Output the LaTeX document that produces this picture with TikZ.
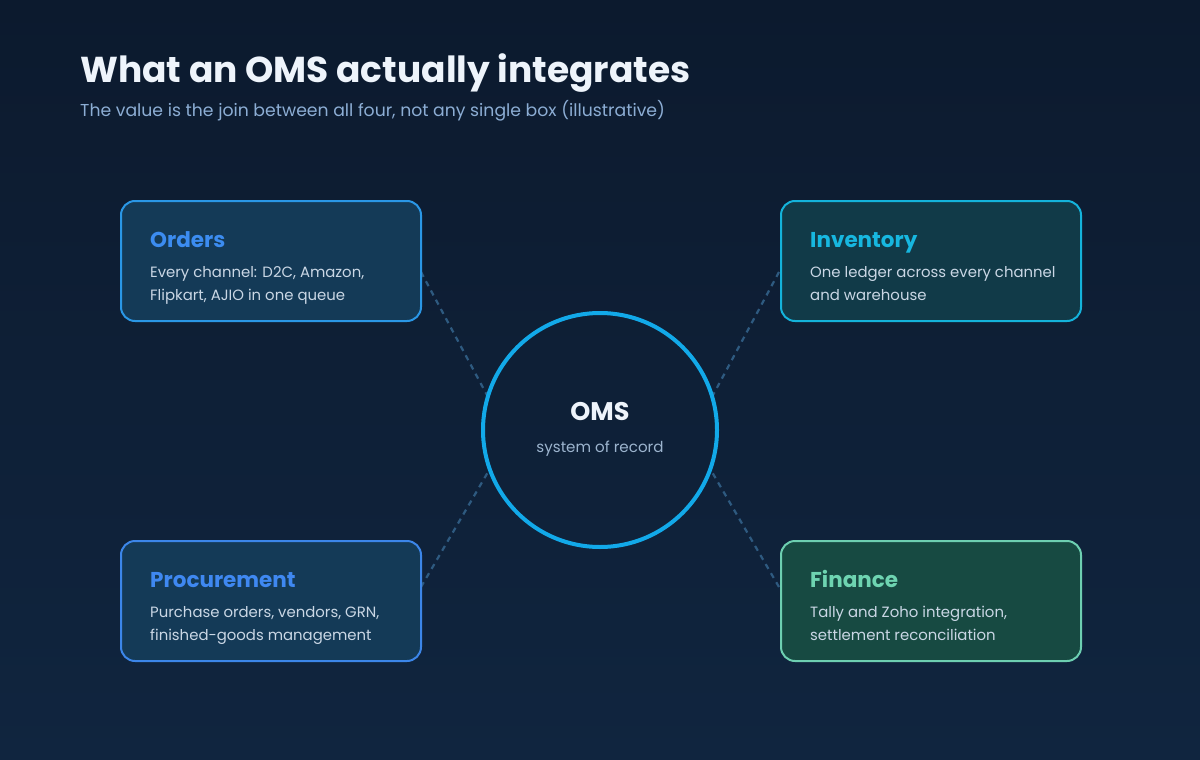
\documentclass[tikz,border=0pt]{standalone}
\usepackage{fontspec}
\setmainfont{Poppins}
\usetikzlibrary{calc}

\definecolor{bgtop}{HTML}{0C1A2E}
\definecolor{bgbot}{HTML}{10253F}
\definecolor{titlecol}{HTML}{EEF4FB}
\definecolor{subcol}{HTML}{8CADD4}
\definecolor{bodycol}{HTML}{CAD7E5}
\definecolor{dashcol}{HTML}{2E5A80}
\definecolor{hubcol}{HTML}{12A9E9}
\definecolor{hubsub}{HTML}{9CB4CE}
% card palettes
\definecolor{ordfill}{HTML}{143A57}
\definecolor{ordline}{HTML}{2A97E6}
\definecolor{ordhead}{HTML}{3C8CF0}
\definecolor{invfill}{HTML}{113A48}
\definecolor{invline}{HTML}{14B3DB}
\definecolor{invhead}{HTML}{17B7E0}
\definecolor{profill}{HTML}{143A57}
\definecolor{proline}{HTML}{3C86E9}
\definecolor{prohead}{HTML}{3F88F1}
\definecolor{finfill}{HTML}{174A42}
\definecolor{finline}{HTML}{6DCFB1}
\definecolor{finhead}{HTML}{6ED4B1}

\tikzset{
  card/.style={rounded corners=14pt, line width=2pt, minimum width=300pt,
    minimum height=120pt, anchor=north west, inner sep=0pt},
  cardhead/.style={anchor=base west, inner sep=0pt,
    font=\fontsize{21.5}{24}\selectfont\bfseries},
  % anchored at the baseline of the second (last) line
  cardbody/.style={anchor=base west, inner sep=0pt, text=bodycol,
    font=\fontsize{14.9}{23}\selectfont, align=left},
  link/.style={draw=dashcol, line width=2.2pt, dash pattern=on 5.5pt off 5pt},
}

\begin{document}
\begin{tikzpicture}[x=1pt,y=-1pt]
  % backdrop
  \shade[top color=bgtop, bottom color=bgbot] (0,0) rectangle (1200,760);
  \useasboundingbox (0,0) rectangle (1200,760);

  % heading
  \node[anchor=base west, inner sep=0pt, text=titlecol,
        font=\fontsize{36}{40}\selectfont\bfseries] (title) at (80,83)
        {What an OMS actually integrates};
  \node[anchor=base west, inner sep=0pt, text=subcol,
        font=\fontsize{17.25}{20}\selectfont] (subtitle) at (80,116.5)
        {The value is the join between all four, not any single box (illustrative)};

  % dashed links, drawn first so cards and hub sit on top
  \coordinate (ordend) at (421,272);
  \coordinate (invend) at (779,272);
  \coordinate (proend) at (421,587);
  \coordinate (finend) at (779,587);
  \coordinate (hubNW) at (488,397);
  \coordinate (hubNE) at (712,397);
  \coordinate (hubSW) at (488,472);
  \coordinate (hubSE) at (712,472);
  \draw[link] (ordend) -- (hubNW);
  \draw[link] (invend) -- (hubNE);
  \draw[link] (proend) -- (hubSW);
  \draw[link] (finend) -- (hubSE);

  % hub
  \node[circle, draw=hubcol, line width=4pt, minimum size=234pt, inner sep=0pt]
        (hub) at (600,430) {};
  \node[anchor=base, inner sep=0pt, text=titlecol,
        font=\fontsize{25.5}{28}\selectfont\bfseries] (hubname) at (600,420) {OMS};
  \node[anchor=base, inner sep=0pt, text=hubsub,
        font=\fontsize{15.1}{18}\selectfont] (hubtag) at (600,452) {system of record};

  % cards
  \node[card, fill=ordfill, draw=ordline] (orders) at (120,200) {};
  \node[cardhead, text=ordhead] (ordersT) at (150,247.5) {Orders};
  \node[cardbody] (ordersB) at (150,300.5)
        {Every channel: D2C, Amazon,\\Flipkart, AJIO in one queue};

  \node[card, fill=invfill, draw=invline] (inventory) at (780,200) {};
  \node[cardhead, text=invhead] (inventoryT) at (810,247.5) {Inventory};
  \node[cardbody] (inventoryB) at (810,300.5)
        {One ledger across every channel\\and warehouse};

  \node[card, fill=profill, draw=proline] (procurement) at (120,540) {};
  \node[cardhead, text=prohead] (procurementT) at (150,587.5) {Procurement};
  \node[cardbody] (procurementB) at (150,640.5)
        {Purchase orders, vendors, GRN,\\finished-goods management};

  \node[card, fill=finfill, draw=finline] (finance) at (780,540) {};
  \node[cardhead, text=finhead] (financeT) at (810,587.5) {Finance};
  \node[cardbody] (financeB) at (810,640.5)
        {Tally and Zoho integration,\\settlement reconciliation};
\end{tikzpicture}
\end{document}
